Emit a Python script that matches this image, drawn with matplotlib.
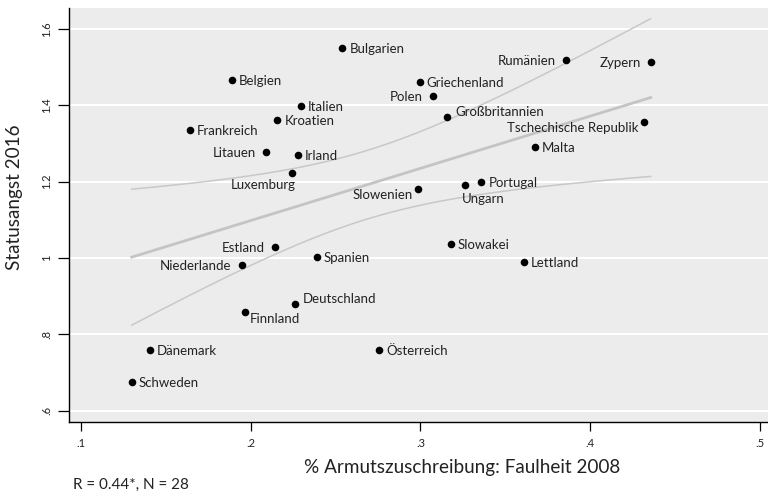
import numpy as np
import matplotlib
matplotlib.use("Agg")
import matplotlib.pyplot as plt

plt.rcParams['font.family'] = ['Lato', 'DejaVu Sans']

countries = ["Bulgarien", "Belgien", "Italien", "Kroatien", "Frankreich", "Litauen",
             "Irland", "Luxemburg", "Estland", "Niederlande", "Spanien", "Deutschland",
             "Finnland", "Dänemark", "Schweden", "Österreich", "Rumänien", "Zypern",
             "Griechenland", "Polen", "Großbritannien", "Tschechische Republik", "Malta",
             "Portugal", "Ungarn", "Slowenien", "Slowakei", "Lettland"]
faulheit_2008 = [0.254, 0.189, 0.2295, 0.2157, 0.164, 0.2088,
                 0.2279, 0.2241, 0.2143, 0.1947, 0.2389, 0.2261,
                 0.1965, 0.1408, 0.1299, 0.2758, 0.3858, 0.4357,
                 0.2996, 0.3072, 0.3157, 0.4316, 0.3675,
                 0.3359, 0.3265, 0.2984, 0.3178, 0.3612]
statusangst_2016 = [1.551, 1.466, 1.3975, 1.361, 1.335, 1.277,
                    1.269, 1.223, 1.030, 0.981, 1.003, 0.879,
                    0.859, 0.759, 0.676, 0.759, 1.519, 1.513,
                    1.461, 1.425, 1.370, 1.357, 1.292,
                    1.200, 1.191, 1.182, 1.037, 0.990]
label_pos = ["r", "r", "r", "r", "r", "l",
             "r", "lux", "l", "l", "r", "ur",
             "lr", "r", "r", "r", "l", "l",
             "r", "l", "ur", "ll", "r",
             "r", "ub", "ll", "r", "r"]
x_ticks = [0.1, 0.2, 0.3, 0.4, 0.5]
x_ticklabels = [".1", ".2", ".3", ".4", ".5"]
y_ticks = [0.6, 0.8, 1.0, 1.2, 1.4, 1.6]
y_ticklabels = [".6", ".8", "1", "1.2", "1.4", "1.6"]
t_crit = 2.0555  # t(0.975, df=26)

x = np.array(faulheit_2008)
y = np.array(statusangst_2016)

fig = plt.figure(figsize=(7.68, 4.96), dpi=100)
ax = fig.add_axes([69/768, 1-422/496, (856-69)/768, (422-8)/496])
ax.set_facecolor("#ececec")
ax.set_xlim(0.09293, 0.5567)
ax.set_ylim(0.5702, 1.6551)

for yt in y_ticks:
    ax.axhline(yt, color="white", lw=1.5, zorder=0)

# linear fit with CI
n = len(x)
b, a = np.polyfit(x, y, 1)
xs = np.linspace(x.min(), x.max(), 200)
yhat = a + b * xs
resid = y - (a + b * x)
s = np.sqrt(np.sum(resid**2) / (n - 2))
sxx = np.sum((x - x.mean())**2)
se = s * np.sqrt(1/n + (xs - x.mean())**2 / sxx)
ax.plot(xs, yhat + t_crit*se, color="#c8c8c8", lw=1.1, zorder=1)
ax.plot(xs, yhat - t_crit*se, color="#c8c8c8", lw=1.1, zorder=1)
ax.plot(xs, yhat, color="#c4c4c4", lw=2.0, zorder=1)

ax.scatter(x, y, s=30, color="black", zorder=3, linewidths=0)

offsets = {
    "r": ((7, -1), "left"),
    "l": ((-10, -1), "right"),
    "lux": ((4, -12), "right"),
    "ll": ((-5, -6), "right"),
    "ub": ((-3, -14), "left"),
    "lr": ((5, -7), "left"),
    "ur": ((8, 5), "left"),
}
for c, xi, yi, p in zip(countries, x, y, label_pos):
    off, ha = offsets[p]
    ax.annotate(c, (xi, yi), xytext=off, textcoords="offset pixels",
                ha=ha, va="center", fontsize=9.5, color="#222222", zorder=4)

ax.set_xticks(x_ticks)
ax.set_xticklabels(x_ticklabels)
ax.set_yticks(y_ticks)
ax.set_yticklabels(y_ticklabels, rotation=90, va="center")
ax.tick_params(axis="x", length=6.5, width=0.9, pad=5, labelsize=8, colors="black",
               labelcolor="#222222")
ax.tick_params(axis="y", length=8, width=0.9, pad=4, labelsize=8, colors="black",
               labelcolor="#222222")
for sp in ["top", "right"]:
    ax.spines[sp].set_visible(False)
for sp in ["left", "bottom"]:
    ax.spines[sp].set_linewidth(1.0)
    ax.spines[sp].set_color("black")

ax.set_xlabel("% Armutszuschreibung: Faulheit 2008", fontsize=13.6, color="#222222", va="center")
ax.xaxis.set_label_coords(0.5, (422-468)/414)
ax.set_ylabel("Statusangst 2016", fontsize=13.6, color="#222222", va="center")
ax.yaxis.set_label_coords((15-69)/787, (422-197.5)/414)

fig.text(73/768, 1-485/496, "R = 0.44*, N = 28", fontsize=11, color="#222222",
         ha="left", va="center")

fig.savefig("out.png", dpi=100)
